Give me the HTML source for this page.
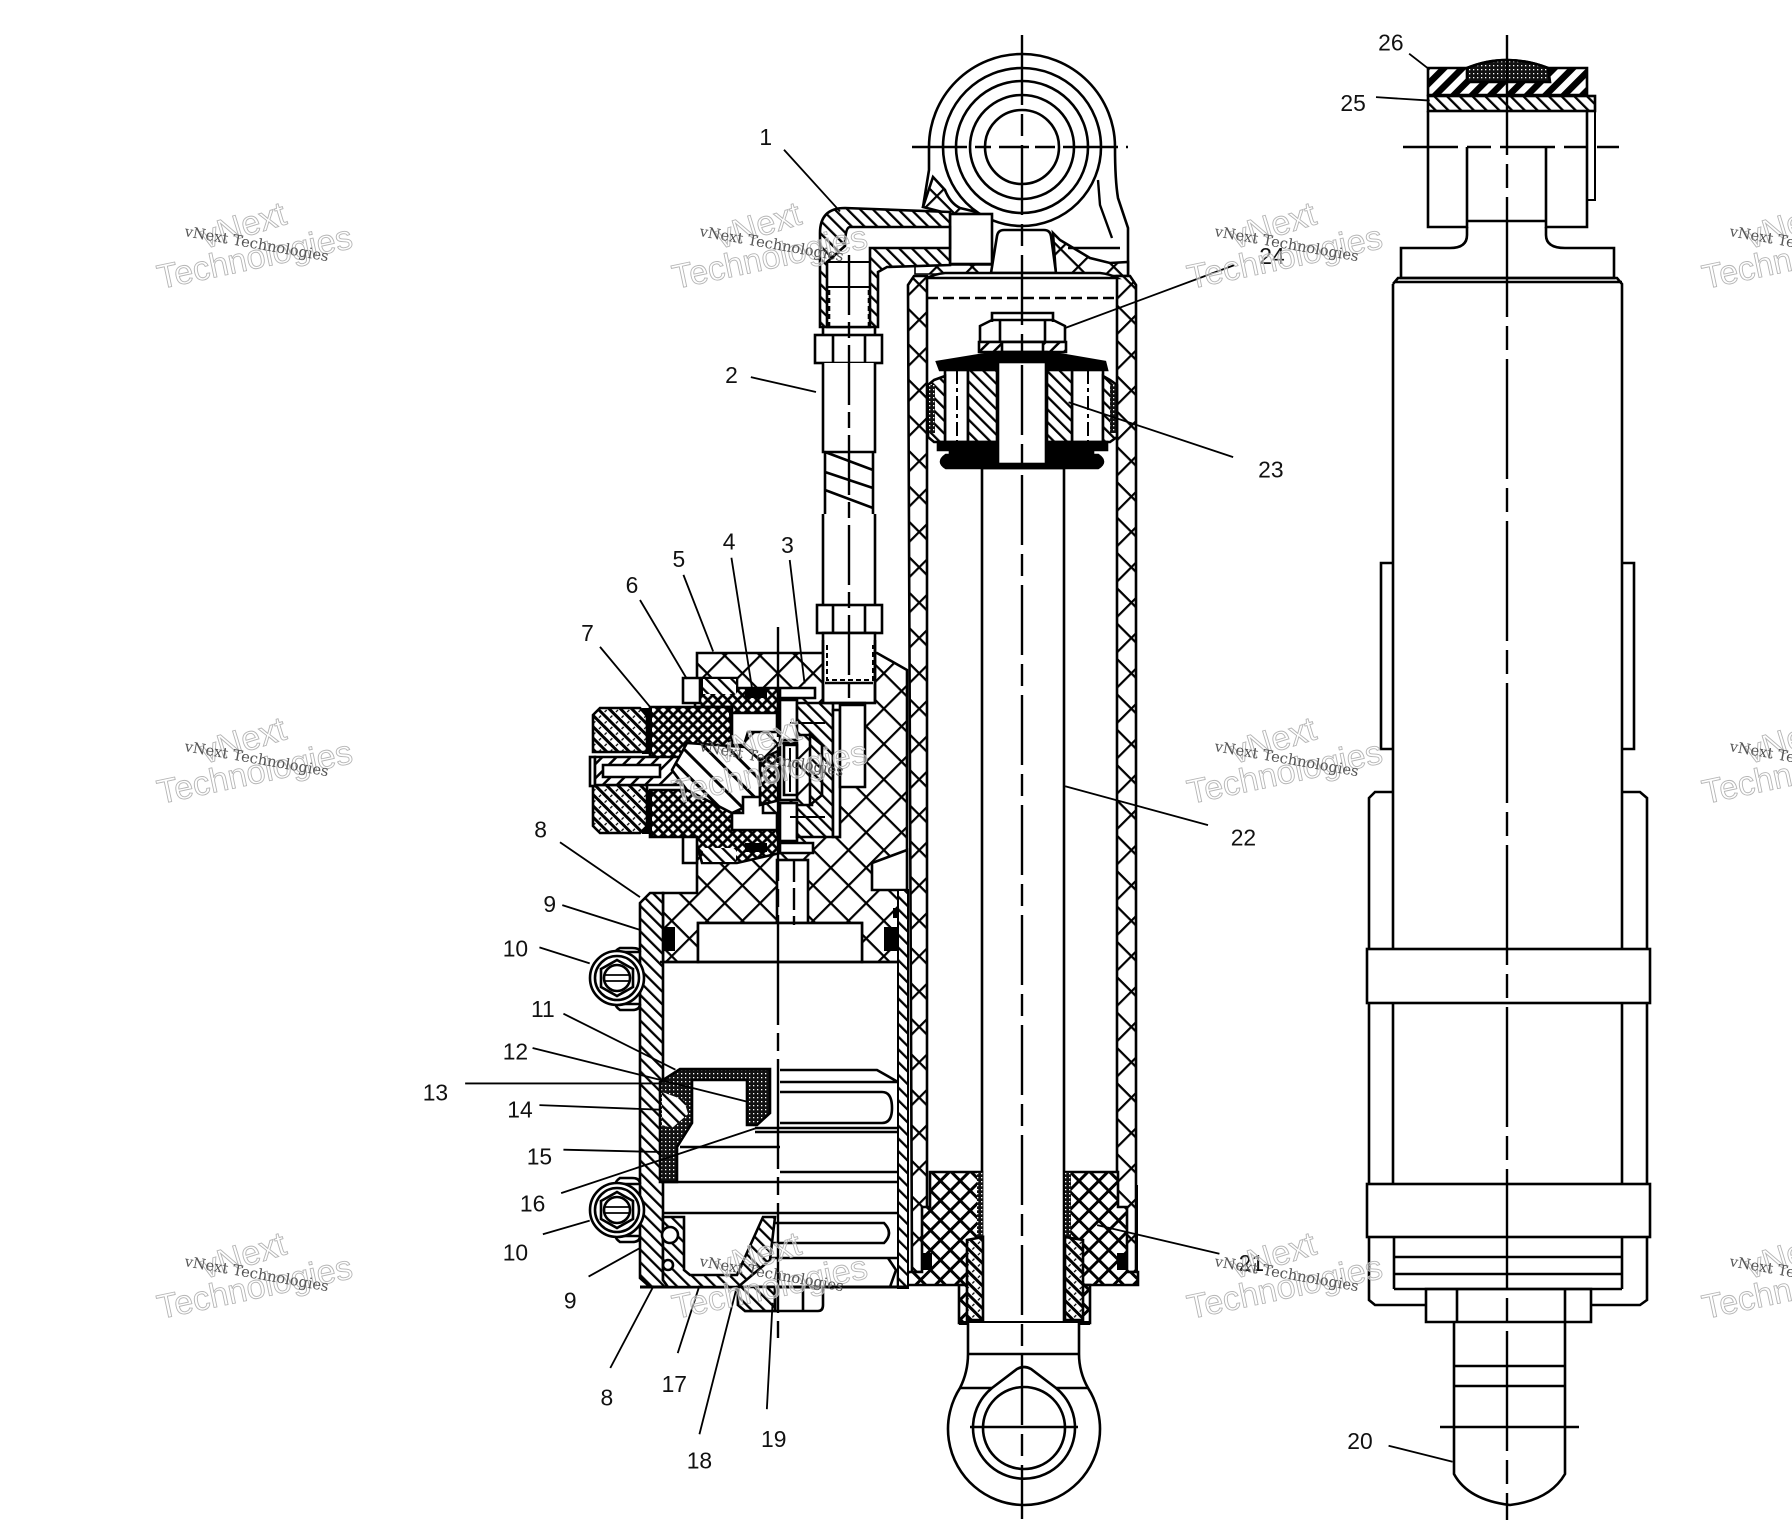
<!DOCTYPE html>
<html><head><meta charset="utf-8"><title>Shock absorber diagram</title>
<style>html,body{margin:0;padding:0;background:#fff}svg{display:block}
.l{font-family:"Liberation Sans",sans-serif;font-size:20px;fill:#111;text-anchor:middle;dominant-baseline:central}
.s{font-family:"DejaVu Serif","Liberation Serif",serif;font-size:14.7px;fill:#555}
.b{font-family:"Liberation Sans",sans-serif;font-size:34px;fill:rgba(255,255,255,.5);stroke:#b5b5b5;stroke-width:.9}
</style></head><body>
<svg width="1792" height="1536" viewBox="0 0 1792 1536" xmlns="http://www.w3.org/2000/svg">
<defs>
<pattern id="a" width="9" height="9" patternUnits="userSpaceOnUse" patternTransform="rotate(-45)"><rect width="9" height="9" fill="#fff"/><line x1="1" y1="0" x2="1" y2="9" stroke="#000" stroke-width="2.6"/></pattern>
<pattern id="b" width="10" height="10" patternUnits="userSpaceOnUse" patternTransform="rotate(45)"><rect width="10" height="10" fill="#fff"/><line x1="1" y1="0" x2="1" y2="10" stroke="#000" stroke-width="3"/></pattern>
<pattern id="c" width="13" height="13" patternUnits="userSpaceOnUse" patternTransform="rotate(45)"><rect width="13" height="13" fill="#fff"/><line x1="3" y1="0" x2="3" y2="13" stroke="#000" stroke-width="7"/></pattern>
<pattern id="w" width="16" height="16" patternUnits="userSpaceOnUse" patternTransform="rotate(-45)"><rect width="16" height="16" fill="#fff"/><line x1="2" y1="0" x2="2" y2="16" stroke="#000" stroke-width="3"/></pattern>
<pattern id="x" width="25" height="25" patternUnits="userSpaceOnUse" patternTransform="rotate(45)"><rect width="25" height="25" fill="#fff"/><path d="M1 0V25M0 1H25" stroke="#000" stroke-width="2.4"/></pattern>
<pattern id="m" width="14" height="14" patternUnits="userSpaceOnUse" patternTransform="rotate(45)"><rect width="14" height="14" fill="#fff"/><path d="M2 0V14M0 2H14" stroke="#000" stroke-width="3"/></pattern>
<pattern id="d" width="7" height="7" patternUnits="userSpaceOnUse" patternTransform="rotate(45)"><rect width="7" height="7" fill="#fff"/><path d="M1.5 0V7M0 1.5H7" stroke="#000" stroke-width="2.7"/></pattern>
<pattern id="k" width="8" height="8" patternUnits="userSpaceOnUse" patternTransform="rotate(-45)"><rect width="8" height="8" fill="#fff"/><path d="M1.5 0V8" stroke="#000" stroke-width="3"/><path d="M4 3h3" stroke="#000" stroke-width="1.3"/></pattern>
<pattern id="p" width="4" height="4" patternUnits="userSpaceOnUse"><rect width="4" height="4" fill="#111"/><rect x="1" y="1" width="1.3" height="1.3" fill="#fff"/></pattern>
</defs>

<g fill="none" stroke="#000" stroke-width="2.6">
<!-- main view: top eye -->
<path d="M923 207L929 170V147A93 93 0 0 1 1115 147Q1115 180 1118 198L1128 228V278"/>
<path d="M923 207L933 177L945 190Q950 203 960 208L985 214L950 214Z" fill="url(#x)"/>
<path d="M1053 233L1060 240L1090 258L1110 263L1128 262V276H1056Z" fill="url(#x)"/>
<path d="M915 265H993V274H915Z" fill="url(#x)" stroke-width="1.6"/>
<circle cx="1022" cy="147" r="79" fill="#fff"/><circle cx="1022" cy="147" r="66"/><circle cx="1022" cy="147" r="52"/><circle cx="1022" cy="147" r="37"/>
<path d="M1098 180L1100 205L1112 238M1068 248H1120" stroke-width="2.4"/>
<!-- stem and block -->
<rect x="950" y="214" width="42" height="50" fill="#fff"/>
<path d="M991 273L997 236Q998 230 1004 230H1044Q1050 230 1051 236L1056 273Z" fill="#fff"/>
<!-- elbow -->
<path d="M820 327V233Q820 208 845 208L950 212V265L887 267L878 272V327Z" fill="url(#a)"/>
<path d="M950 227H850Q845 227 845 246L827 262V327H870V248H950Z" fill="#fff"/>
<path d="M827 262H870M827 287H870" stroke-width="2"/>
<path d="M829 290V327M869 290V327" stroke-dasharray="5 3"/>
<path d="M823 327V335M875 327V335"/>
<!-- hose -->
<rect x="815" y="335" width="67" height="28" fill="#fff"/><path d="M833 335V363M865 335V363"/>
<path d="M823 363V452H875V363" fill="#fff"/>
<path d="M825 452V514M873 452V514M825 452L873 470M825 472L873 488M825 490L873 508"/>
<path d="M823 514V606M875 514V606"/>
<rect x="817" y="605" width="65" height="28" fill="#fff"/><path d="M833 605V633M865 605V633"/>
<!-- main cylinder -->
<path d="M908 285L914 276H927V1272H912Z" fill="url(#x)"/>
<path d="M1136 285L1130 276H1117V1272H1136Z" fill="url(#x)"/>
<path d="M927 278Q935 274 945 273H1100Q1110 274 1117 278Z" fill="#fff"/>
<path d="M927 298H1117" stroke-dasharray="11 5"/>
<rect x="982" y="468" width="82" height="855" fill="#fff"/>
<!-- piston nut -->
<path d="M992 322V313H1053V322M980 342V326L992 320H1053L1065 326V342Z" fill="#fff"/>
<path d="M1000 320V342M1045 320V342"/>
<path d="M979 342H1066V352H979Z" fill="url(#b)"/><rect x="1002" y="342" width="41" height="10" fill="#fff"/>
<path d="M937 362L998 352H1047L1105 362L1107 370H940Z" fill="#000"/>
<!-- piston body -->
<rect x="945" y="370" width="23" height="72" fill="#fff"/><rect x="1072" y="370" width="31" height="72" fill="#fff"/>
<rect x="968" y="370" width="29" height="72" fill="url(#a)"/><rect x="1047" y="370" width="25" height="72" fill="url(#a)"/>
<path d="M934 380L945 376V442H934L928 437V385Z" fill="url(#a)"/><path d="M1110 380L1103 376V442H1110L1117 437V385Z" fill="url(#a)"/>
<rect x="929" y="385" width="6" height="48" fill="url(#p)" stroke="none"/><rect x="1110" y="385" width="6" height="48" fill="url(#p)" stroke="none"/>
<path d="M957 370V442M1088 370V442" stroke-dasharray="14 4 4 4" stroke-width="2"/>
<path d="M938 442H1107V450H1093V455H1098Q1108 462 1098 468H946Q936 462 946 455H950V450H938Z" fill="#000"/>
<rect x="998" y="362" width="48" height="102" fill="#fff"/>
<!-- gland -->
<path d="M930 1172H982V1285H898V1272H922V1207H930Z" fill="url(#m)"/>
<path d="M1065 1172H1118V1207H1127V1272H1138V1285H1065Z" fill="url(#m)"/>
<rect x="977" y="1172" width="6" height="65" fill="url(#p)" stroke="none"/><rect x="1065" y="1172" width="6" height="65" fill="url(#p)" stroke="none"/>
<path d="M959 1285H982V1323H959Z" fill="url(#m)"/><path d="M1065 1285H1090V1323H1065Z" fill="url(#m)"/>
<path d="M967 1240L983 1237V1320H967Z" fill="url(#k)"/><path d="M1065 1237L1083 1240V1320H1065Z" fill="url(#k)"/>
<rect x="921" y="1253" width="11" height="17" fill="#000" stroke="none"/><rect x="1117" y="1253" width="11" height="17" fill="#000" stroke="none"/>
<path d="M959 1323H1090" stroke-width="4"/>
<path d="M1137 1185V1272" stroke-width="2"/>
<!-- bottom eye -->
<path d="M968 1323V1354Q968 1372 960 1388A76 76 0 1 0 1088 1388Q1079 1372 1079 1354V1323" fill="#fff"/>
<path d="M968 1354H1079M960 1388H992M1056 1388H1088"/>
<path d="M992 1388L1017 1369Q1024 1365 1031 1369L1056 1388A51 51 0 1 1 992 1388Z" fill="#fff"/>
<circle cx="1024" cy="1428" r="41"/>

<!-- reservoir head -->
<path d="M697 653H877L907 670V890H900V962H862V923H698V962H663V893H697V863Z" fill="url(#x)"/>
<rect x="777" y="860" width="31" height="63" fill="#fff"/>
<path d="M872 890V863L907 850V890Z" fill="#fff"/>
<rect x="698" y="923" width="164" height="39" fill="#fff"/>
<rect x="661" y="927" width="14" height="24" fill="#000" stroke="none"/><rect x="884" y="927" width="15" height="24" fill="#000" stroke="none"/>
<rect x="654" y="910" width="10" height="10" fill="#000" stroke="none"/><rect x="893" y="908" width="10" height="10" fill="#000" stroke="none"/>
<!-- reservoir tube -->
<path d="M650 893H663V1280L668 1287H650L640 1278V903Z" fill="url(#a)"/>
<path d="M660 962H898"/>
<rect x="898" y="890" width="10" height="398" fill="url(#a)" stroke-width="2"/>
<path d="M640 1287H908" stroke-width="3"/>
<!-- floating piston -->
<path d="M780 1070H877L898 1082M780 1082H898M780 1092H882Q892 1092 892 1108Q892 1123 882 1123H780M755 1128H898M755 1132H898M680 1147H780M780 1172H898M662 1182H898M662 1213H898M770 1223H884Q894 1233 884 1243H770M770 1258H898"/>
<path d="M660 1082L680 1069H770V1113L757 1125H747V1080H692V1123L677 1147V1182H660Z" fill="url(#p)"/>
<path d="M662 1092L684 1100L688 1114L672 1128L662 1125Z" fill="url(#a)" stroke="none"/>
<!-- bottom end cap -->
<path d="M663 1217H684V1270L690 1275H737L763 1217L775 1217L770 1260L738 1287H668L663 1280Z" fill="url(#a)"/>
<circle cx="668" cy="1265" r="5" fill="#fff"/><circle cx="670" cy="1235" r="8" fill="#fff"/>
<path d="M738 1287V1305L745 1311H818Q823 1311 823 1305V1287"/>
<path d="M738 1287H775V1311H745L738 1305Z" fill="url(#a)"/>
<path d="M803 1287V1311M775 1287V1311"/>
<path d="M888 1258L896 1270L890 1287H900"/>
<!-- set screws -->
<path d="M640 952H620Q612 952 620 948H632Q640 948 640 952M640 1004H620Q612 1004 620 1010H632Q640 1010 640 1004"/>
<circle cx="617" cy="978" r="27" fill="#fff"/><circle cx="617" cy="978" r="22"/>
<path d="M617 960L633 969V987L617 996L601 987V969Z" fill="#fff"/><circle cx="617" cy="978" r="13"/><path d="M605 975H629M605 981H629" stroke-width="1.8"/>
<path d="M640 1184H620Q612 1184 620 1178H632Q640 1178 640 1184M640 1236H620Q612 1236 620 1242H632Q640 1242 640 1236"/>
<circle cx="617" cy="1210" r="27" fill="#fff"/><circle cx="617" cy="1210" r="22"/>
<path d="M617 1192L633 1201V1219L617 1228L601 1219V1201Z" fill="#fff"/><circle cx="617" cy="1210" r="13"/><path d="M605 1207H629M605 1213H629" stroke-width="1.8"/>

<!-- valve assembly -->
<path d="M702 678H737V688H778V713H732V707H695V695H702Z" fill="url(#d)"/>
<rect x="703" y="679" width="33" height="15" fill="url(#a)" stroke="none"/>
<rect x="745" y="689" width="22" height="9" fill="#000" stroke="none"/>
<path d="M650 790H687L732 813V830H777L780 853L737 863H702L695 837H650Z" fill="url(#d)"/>
<rect x="703" y="848" width="33" height="14" fill="url(#a)" stroke="none"/>
<rect x="745" y="843" width="22" height="9" fill="#000" stroke="none"/>
<path d="M683 678H700V703H683ZM683 837H697V863H683Z" fill="#fff"/>
<path d="M650 707H730L732 747L686 743L683 760L650 757Z" fill="url(#d)"/>
<rect x="642" y="708" width="10" height="46" fill="#000" stroke="none"/><rect x="642" y="790" width="10" height="44" fill="#000" stroke="none"/>
<path d="M600 708H640L647 716V752H593V715Z" fill="url(#k)"/>
<path d="M593 785H647V826L640 833H600L593 826Z" fill="url(#k)"/>
<rect x="590" y="757" width="5" height="29" fill="#fff"/>
<path d="M595 757H690V785H595Z" fill="url(#b)"/>
<path d="M603 765H660V777H603Z" fill="#fff"/>
<path d="M687 743L745 747L760 760V800L732 813L687 790L672 770Z" fill="url(#w)"/>
<path d="M732 713H777V732H748L744 745H732Z" fill="#fff"/>
<path d="M743 797H763V813H777V830H732V813H743Z" fill="#fff"/>
<path d="M760 760L780 750V800L760 805Z" fill="url(#d)"/>
<!-- right-hand fitting channel -->
<path d="M780 688H815V698H780ZM780 843H813V853H780Z" fill="#fff"/>
<rect x="780" y="700" width="17" height="40" fill="#fff"/>
<rect x="780" y="743" width="17" height="57" fill="#fff"/>
<path d="M784 745H797V795H784Z"/><path d="M790 748V792" stroke-width="2"/>
<rect x="780" y="803" width="17" height="38" fill="#fff"/>
<path d="M797 703H833V837H797V805H812V735H797Z" fill="url(#a)"/>
<path d="M810 735L822 745V795L810 805Z" fill="url(#a)"/>
<path d="M790 723H825M790 817H825" stroke-width="2"/>
<rect x="833" y="710" width="7" height="127" fill="#fff"/>
<path d="M840 705H865V787H840Z" fill="#fff"/>
<rect x="823" y="633" width="52" height="70" fill="#fff"/>
<path d="M827 645V680H873V645" stroke-dasharray="5 3" stroke-width="2"/>
<path d="M825 683H873M830 703H866M823 640V703M875 640V703"/>

<!-- right view -->
<path d="M1428 68H1467Q1505 52 1548 68H1587V95H1428Z" fill="url(#c)"/>
<path d="M1467 68Q1507 52 1548 68L1550 82H1467Z" fill="url(#p)"/>
<rect x="1428" y="96" width="167" height="15" fill="url(#a)"/>
<path d="M1428 111V227H1467V147M1587 111V227H1546V147M1467 221H1546"/>
<path d="M1595 111V200H1587" stroke-width="2"/>
<path d="M1467 227V235Q1467 248 1450 248H1401V278H1614V248H1565Q1546 248 1546 235V227"/>
<path d="M1393 284L1398 278H1617L1622 284V950M1393 284V950M1394 282H1622" />
<path d="M1393 563H1381V749H1393M1622 563H1634V749H1622"/>
<path d="M1393 792H1375L1369 798V949M1622 792H1640L1647 798V949"/>
<rect x="1367" y="949" width="283" height="54" fill="#fff"/>
<path d="M1369 1003V1184M1647 1003V1184M1393 1003V1184M1622 1003V1184"/>
<rect x="1367" y="1184" width="283" height="53" fill="#fff"/>
<path d="M1369 1237V1300L1375 1305H1426M1647 1237V1300L1640 1305H1591M1394 1237V1289M1622 1237V1289M1394 1257H1622M1394 1274H1622M1394 1289H1622"/>
<path d="M1426 1289H1591V1322H1426ZM1457 1289V1322M1565 1289V1322"/>
<path d="M1454 1322V1474Q1468 1500 1510 1505Q1550 1500 1565 1474V1322M1454 1366H1565M1454 1386H1565"/>
</g>

<!-- centre lines -->
<g fill="none" stroke="#000" stroke-width="2.4">
<path d="M912 147H1128" stroke-dasharray="55 8 16 8 30 6 20 8"/>
<path d="M1022 35V1519" stroke-dasharray="70 9 22 9"/>
<path d="M970 1427H1078"/>
<path d="M849 255V700" stroke-dasharray="60 7 16 7"/>
<path d="M778 627V1338" stroke-dasharray="110 8 18 8"/>
<path d="M794 860V925" stroke-dasharray="22 6" />
<path d="M1507 35V1520" stroke-dasharray="120 9 24 9"/>
<path d="M1403 147H1619" stroke-dasharray="55 9 24 9"/>
<path d="M1440 1427H1579"/>
</g>

<!-- leaders and labels -->
<g transform="scale(1.142857)">
<g fill="none" stroke="#000" stroke-width="1.6">
<path d="M686 131L735 185M657 330L714 343M691 490L704 598M640 488L658 602M598 503L624 570M560 525L601 594M525 566L570 620M490 737L560 785M492 792L561 814M472 829L516 843M493 887L591 936M466 917L654 964M407 948H578M472 967L578 971M493 1006L578 1008M491 1044L662 987M475 1080L516 1068M515 1117L560 1092M534 1197L572 1125M593 1184L612 1125M612 1255L645 1125M671 1233L676 1140M1215 1265L1271 1279M1067 1097L960 1072M1057 722L932 688M1079 400L935 352M1080 232L932 287M1204 85L1251 88M1233 47L1251 61"/>
</g>
<text class="l" x="670" y="120">1</text><text class="l" x="640" y="328">2</text><text class="l" x="689" y="477">3</text><text class="l" x="638" y="474">4</text><text class="l" x="594" y="489">5</text><text class="l" x="553" y="512">6</text><text class="l" x="514" y="554">7</text><text class="l" x="473" y="726">8</text><text class="l" x="481" y="791">9</text><text class="l" x="451" y="830">10</text><text class="l" x="475" y="883">11</text><text class="l" x="451" y="920">12</text><text class="l" x="381" y="956">13</text><text class="l" x="455" y="971">14</text><text class="l" x="472" y="1012">15</text><text class="l" x="466" y="1053">16</text><text class="l" x="451" y="1096">10</text><text class="l" x="499" y="1138">9</text><text class="l" x="531" y="1223">8</text><text class="l" x="590" y="1211">17</text><text class="l" x="612" y="1278">18</text><text class="l" x="677" y="1259">19</text><text class="l" x="1190" y="1261">20</text><text class="l" x="1095" y="1105">21</text><text class="l" x="1088" y="733">22</text><text class="l" x="1112" y="411">23</text><text class="l" x="1113" y="224">24</text><text class="l" x="1184" y="90">25</text><text class="l" x="1217" y="37">26</text>
</g>

<!-- watermarks -->
<g><text class="b" transform="translate(205,249) rotate(-17)">vNext</text><text class="b" transform="translate(160,289) rotate(-12)">Technologies</text><text class="s" transform="translate(184,236) rotate(10)">vNext Technologies</text></g>
<g transform="translate(515,0)"><text class="b" transform="translate(205,249) rotate(-17)">vNext</text><text class="b" transform="translate(160,289) rotate(-12)">Technologies</text><text class="s" transform="translate(184,236) rotate(10)">vNext Technologies</text></g>
<g transform="translate(1030,0)"><text class="b" transform="translate(205,249) rotate(-17)">vNext</text><text class="b" transform="translate(160,289) rotate(-12)">Technologies</text><text class="s" transform="translate(184,236) rotate(10)">vNext Technologies</text></g>
<g transform="translate(1545,0)"><text class="b" transform="translate(205,249) rotate(-17)">vNext</text><text class="b" transform="translate(160,289) rotate(-12)">Technologies</text><text class="s" transform="translate(184,236) rotate(10)">vNext Technologies</text></g>
<g transform="translate(0,515)"><text class="b" transform="translate(205,249) rotate(-17)">vNext</text><text class="b" transform="translate(160,289) rotate(-12)">Technologies</text><text class="s" transform="translate(184,236) rotate(10)">vNext Technologies</text></g>
<g transform="translate(515,515)"><text class="b" transform="translate(205,249) rotate(-17)">vNext</text><text class="b" transform="translate(160,289) rotate(-12)">Technologies</text><text class="s" transform="translate(184,236) rotate(10)">vNext Technologies</text></g>
<g transform="translate(1030,515)"><text class="b" transform="translate(205,249) rotate(-17)">vNext</text><text class="b" transform="translate(160,289) rotate(-12)">Technologies</text><text class="s" transform="translate(184,236) rotate(10)">vNext Technologies</text></g>
<g transform="translate(1545,515)"><text class="b" transform="translate(205,249) rotate(-17)">vNext</text><text class="b" transform="translate(160,289) rotate(-12)">Technologies</text><text class="s" transform="translate(184,236) rotate(10)">vNext Technologies</text></g>
<g transform="translate(0,1030)"><text class="b" transform="translate(205,249) rotate(-17)">vNext</text><text class="b" transform="translate(160,289) rotate(-12)">Technologies</text><text class="s" transform="translate(184,236) rotate(10)">vNext Technologies</text></g>
<g transform="translate(515,1030)"><text class="b" transform="translate(205,249) rotate(-17)">vNext</text><text class="b" transform="translate(160,289) rotate(-12)">Technologies</text><text class="s" transform="translate(184,236) rotate(10)">vNext Technologies</text></g>
<g transform="translate(1030,1030)"><text class="b" transform="translate(205,249) rotate(-17)">vNext</text><text class="b" transform="translate(160,289) rotate(-12)">Technologies</text><text class="s" transform="translate(184,236) rotate(10)">vNext Technologies</text></g>
<g transform="translate(1545,1030)"><text class="b" transform="translate(205,249) rotate(-17)">vNext</text><text class="b" transform="translate(160,289) rotate(-12)">Technologies</text><text class="s" transform="translate(184,236) rotate(10)">vNext Technologies</text></g>
</svg>
</body></html>
